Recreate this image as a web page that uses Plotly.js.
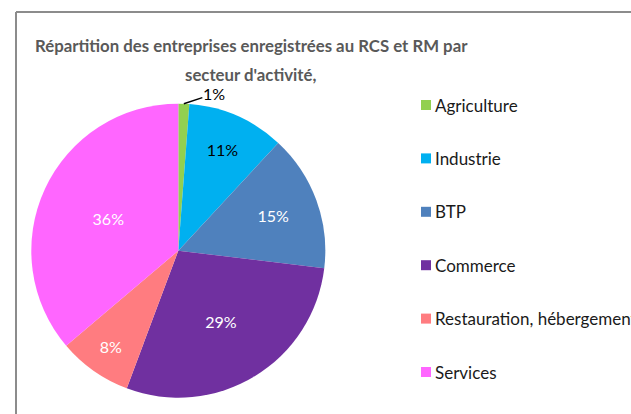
<!DOCTYPE html>
<html><head><meta charset="utf-8">
<script src="https://cdn.plot.ly/plotly-3.0.1.min.js"></script>
<style>html,body{margin:0;padding:0;background:#fff;}#chart{width:631px;height:414px;}</style>
</head><body><div id="chart"></div>
<script>
const categories = ['Agriculture', 'Industrie', 'BTP', 'Commerce', 'Restauration, hébergement', 'Services'];
const shares = [1.2, 10.7, 15.0, 28.8, 8.1, 36.2];
const colors = ['#92d050', '#00b0f0', '#4f81bd', '#7030a0', '#ff7c80', '#ff66ff'];
const labelColors = ['#000000', '#000000', '#ffffff', '#ffffff', '#ffffff', '#ffffff'];
const titleLines = ["Répartition des entreprises enregistrées au RCS et RM par", "secteur d'activité,"];

const W = 631, H = 414;
const FONT = 'Lato, "Open Sans", sans-serif';
const cx = 178.3, cy = 250.7, R = 147;
const total = shares.reduce((a, b) => a + b, 0);

// the tiny first slice gets its label outside with a leader line (annotation); others inside
const texts = shares.map((v, i) => i === 0 ? '' : Math.round(v / total * 100) + '%');

const trace = {
  type: 'pie',
  labels: categories,
  values: shares,
  sort: false,
  direction: 'clockwise',
  rotation: 0,
  marker: {colors: colors, line: {width: 0}},
  text: texts,
  textinfo: 'text',
  textposition: 'inside',
  insidetextorientation: 'horizontal',
  textfont: {family: FONT, size: 16, color: labelColors},
  hoverinfo: 'label+percent',
  showlegend: false,
  automargin: false,
  domain: {x: [(cx - R) / W, (cx + R) / W], y: [1 - (cy + R) / H, 1 - (cy - R) / H]}
};

const shapes = [
  {type: 'line', xref: 'paper', yref: 'paper', x0: 16 / W, x1: 1.05, y0: 1 - 12 / H, y1: 1 - 12 / H, line: {color: '#8c8c8c', width: 2}},
  {type: 'line', xref: 'paper', yref: 'paper', x0: 16 / W, x1: 16 / W, y0: 1 - 12 / H, y1: -0.05, line: {color: '#8c8c8c', width: 2}}
];
const annotations = [];
titleLines.forEach((t, i) => {
  annotations.push({text: t, xref: 'paper', yref: 'paper', x: 251 / W, y: 1 - (45 + 29 * i) / H,
    xanchor: 'center', yanchor: 'middle', showarrow: false, borderpad: 0,
    font: {family: FONT, size: 16.8, color: '#595959', weight: 'bold'}});
});

// outside label for first slice, pointing at the slice's outer edge
const midFrac = (shares[0] / 2) / total;
const ang = midFrac * 2 * Math.PI;
const px = cx + R * Math.sin(ang), py = cy - R * Math.cos(ang);
annotations.push({text: Math.round(shares[0] / total * 100) + '%', xref: 'paper', yref: 'paper',
  x: px / W, y: 1 - py / H, ax: 30, ay: -10, axref: 'pixel', ayref: 'pixel', borderpad: 0,
  showarrow: true, arrowhead: 0, arrowwidth: 1.5, arrowcolor: '#000000', standoff: 0,
  font: {family: FONT, size: 16, color: '#000000'}});

// legend built from categories
const legX = 421, legY0 = 105, legStep = 53.4, box = 10;
categories.forEach((c, i) => {
  const yc = legY0 + i * legStep;
  shapes.push({type: 'rect', xref: 'paper', yref: 'paper', x0: legX / W, x1: (legX + box) / W,
    y0: 1 - (yc - box / 2) / H, y1: 1 - (yc + box / 2) / H, fillcolor: colors[i], line: {width: 0}});
  annotations.push({text: c, xref: 'paper', yref: 'paper', x: (legX + box + 2) / W, y: 1 - yc / H,
    xanchor: 'left', yanchor: 'middle', showarrow: false, font: {family: FONT, size: 17, color: '#1a1a1a'}});
});

const layout = {
  width: W, height: H,
  margin: {l: 0, r: 0, t: 0, b: 0},
  paper_bgcolor: '#ffffff',
  showlegend: false,
  shapes: shapes,
  annotations: annotations
};
Plotly.newPlot('chart', [trace], layout, {displayModeBar: false, staticPlot: true});
</script></body></html>
